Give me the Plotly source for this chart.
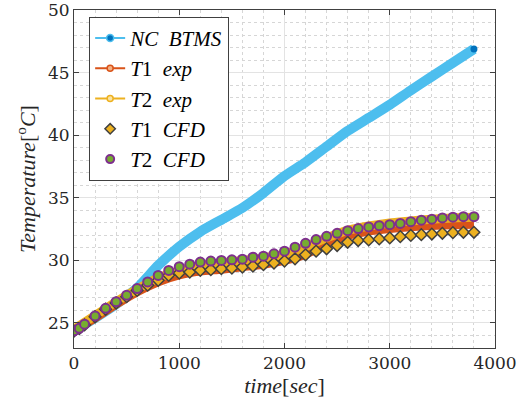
import plotly.graph_objects as go

# experimental / model curves (time in s, temperature in degC)
t_line = [0, 200, 400, 600, 800, 1000, 1200, 1400, 1600, 1800, 2000,
          2200, 2400, 2600, 2800, 3000, 3200, 3400, 3600, 3800]
nc_btms = [24.4, 25.4, 26.5, 27.8, 29.6, 31.1, 32.3, 33.25, 34.2, 35.4, 36.75,
           37.85, 39.1, 40.35, 41.4, 42.45, 43.6, 44.7, 45.8, 46.9]
t1_exp = [24.4, 25.4, 26.5, 27.5, 28.3, 28.85, 29.15, 29.3, 29.5, 29.7, 30.0,
          30.5, 31.3, 32.0, 32.35, 32.55, 32.7, 32.8, 32.85, 32.9]
t2_exp = [24.5, 25.6, 26.7, 27.7, 28.6, 29.2, 29.6, 29.8, 30.0, 30.2, 30.5,
          31.1, 31.8, 32.4, 32.75, 33.0, 33.15, 33.3, 33.4, 33.45]

# CFD points
t_cfd = [0, 50, 100, 200, 300, 400, 500, 600, 700, 800, 900, 1000, 1100, 1200,
         1300, 1400, 1500, 1600, 1700, 1800, 1900, 2000, 2100, 2200, 2300, 2400,
         2500, 2600, 2700, 2800, 2900, 3000, 3100, 3200, 3300, 3400, 3500, 3600,
         3700, 3800]
t1_cfd = [24.35, 24.55, 24.85, 25.5, 26.1, 26.6, 27.1, 27.6, 28.02, 28.41, 28.81,
          28.99, 29.07, 29.21, 29.26, 29.34, 29.39, 29.47, 29.55, 29.66, 29.79,
          29.95, 30.13, 30.45, 30.74, 30.93, 31.19, 31.45, 31.59, 31.64, 31.72,
          31.8, 31.9, 32.0, 32.06, 32.11, 32.17, 32.22, 32.25, 32.25]
t2_cfd = [24.37, 24.58, 24.9, 25.56, 26.17, 26.7, 27.22, 27.75, 28.28, 28.8, 29.2,
          29.5, 29.7, 29.87, 29.95, 30.0, 30.05, 30.1, 30.26, 30.34, 30.53,
          30.74, 31.06, 31.37, 31.67, 31.93, 32.17, 32.38, 32.55, 32.68, 32.78,
          32.86, 32.96, 33.1, 33.22, 33.3, 33.4, 33.46, 33.5, 33.5]

BLUE, DBLUE = "#4DBEEE", "#0072BD"
RED, GOLD = "#D95319", "#EDB120"
GREEN, PURPLE = "#77AC30", "#7E2F8E"
SERIF = "Liberation Serif"
SERIF2 = "DejaVu Serif"
INK = "#262626"

fig = go.Figure()

# thick data curves (no legend)
fig.add_trace(go.Scatter(
    x=t_line, y=nc_btms, mode="lines+markers", showlegend=False,
    line=dict(color=BLUE, width=10, shape="spline", smoothing=0.6),
    marker=dict(size=7, color=[BLUE] * (len(t_line) - 1) + [DBLUE], line=dict(width=0))))
fig.add_trace(go.Scatter(x=t_line, y=t1_exp, mode="lines", showlegend=False,
                         line=dict(color=RED, width=9, shape="spline", smoothing=0.6)))
fig.add_trace(go.Scatter(x=t_line, y=t2_exp, mode="lines", showlegend=False,
                         line=dict(color=GOLD, width=9, shape="spline", smoothing=0.6)))
fig.add_trace(go.Scatter(x=t_cfd, y=t1_cfd, mode="markers", showlegend=False,
                         marker=dict(symbol="diamond", size=9, color=GOLD,
                                     line=dict(color="#404040", width=1.5))))
fig.add_trace(go.Scatter(x=t_cfd, y=t2_cfd, mode="markers", showlegend=False,
                         marker=dict(symbol="circle", size=9, color=GREEN,
                                     line=dict(color=PURPLE, width=2))))

# legend-only entries with thin lines
legend_items = [
    ("<i>NC</i>  <i>BTMS</i>", "lines+markers", dict(color=BLUE, width=2),
     dict(size=7, color=DBLUE, line=dict(color=BLUE, width=1.5))),
    ("<i>T</i>1  <i>exp</i>", "lines+markers", dict(color=RED, width=2),
     dict(size=6, color="#F4B183", line=dict(color=RED, width=1.5))),
    ("<i>T</i>2  <i>exp</i>", "lines+markers", dict(color=GOLD, width=2),
     dict(size=6, color="#FBE3A0", line=dict(color=GOLD, width=1.5))),
    ("<i>T</i>1  <i>CFD</i>", "markers", None,
     dict(symbol="diamond", size=8, color=GOLD, line=dict(color="#404040", width=1.5))),
    ("<i>T</i>2  <i>CFD</i>", "markers", None,
     dict(symbol="circle", size=8, color=GREEN, line=dict(color=PURPLE, width=2))),
]
for name, mode, line, marker in legend_items:
    tr = go.Scatter(x=[None], y=[None], mode=mode, name=name, marker=marker)
    if line:
        tr.line = line
    fig.add_trace(tr)

axis_common = dict(
    showline=True, linecolor="#404040", linewidth=1, mirror="ticks",
    ticks="inside", ticklen=5, tickcolor="#404040", automargin=False,
    ticklabeloverflow="allow",
    showgrid=True, gridcolor="#e3e3e3", gridwidth=1, zeroline=False,
    tickfont=dict(family=SERIF2, size=17, color=INK),
)

fig.update_xaxes(
    range=[0, 4000], dtick=1000, **axis_common,
    minor=dict(dtick=200, showgrid=True, gridcolor="#d6d6d6", griddash="dot", ticks=""),
    title=dict(text="<i>time</i>[<i>sec</i>]", font=dict(family=SERIF, size=22, color=INK),
               standoff=2),
)
fig.update_yaxes(
    range=[23, 50.02], tickvals=[25, 30, 35, 40, 45, 50], **axis_common,
    minor=dict(dtick=1, tick0=0, showgrid=True, gridcolor="#d6d6d6", griddash="dot", ticks=""),
    title=dict(text="<i>Temperature</i>[<sup>o</sup><i>C</i>]",
               font=dict(family=SERIF, size=22, color=INK), standoff=6),
)

fig.update_layout(
    width=518, height=414,
    margin=dict(l=74, r=23, t=10, b=66, autoexpand=False),
    plot_bgcolor="white", paper_bgcolor="white",
    font=dict(family=SERIF),
    legend=dict(x=0.036, y=0.98, xanchor="left", yanchor="top",
                bgcolor="white", bordercolor="#404040", borderwidth=1,
                font=dict(family=SERIF, size=21, color="#000000"),
                itemwidth=30, tracegroupgap=0),
)

# the page body has a default 8px margin; remove it so the figure sits at (0, 0)
fig.write_html("out.html", config={"displayModeBar": False},
               post_script="document.body.style.margin='0';")
